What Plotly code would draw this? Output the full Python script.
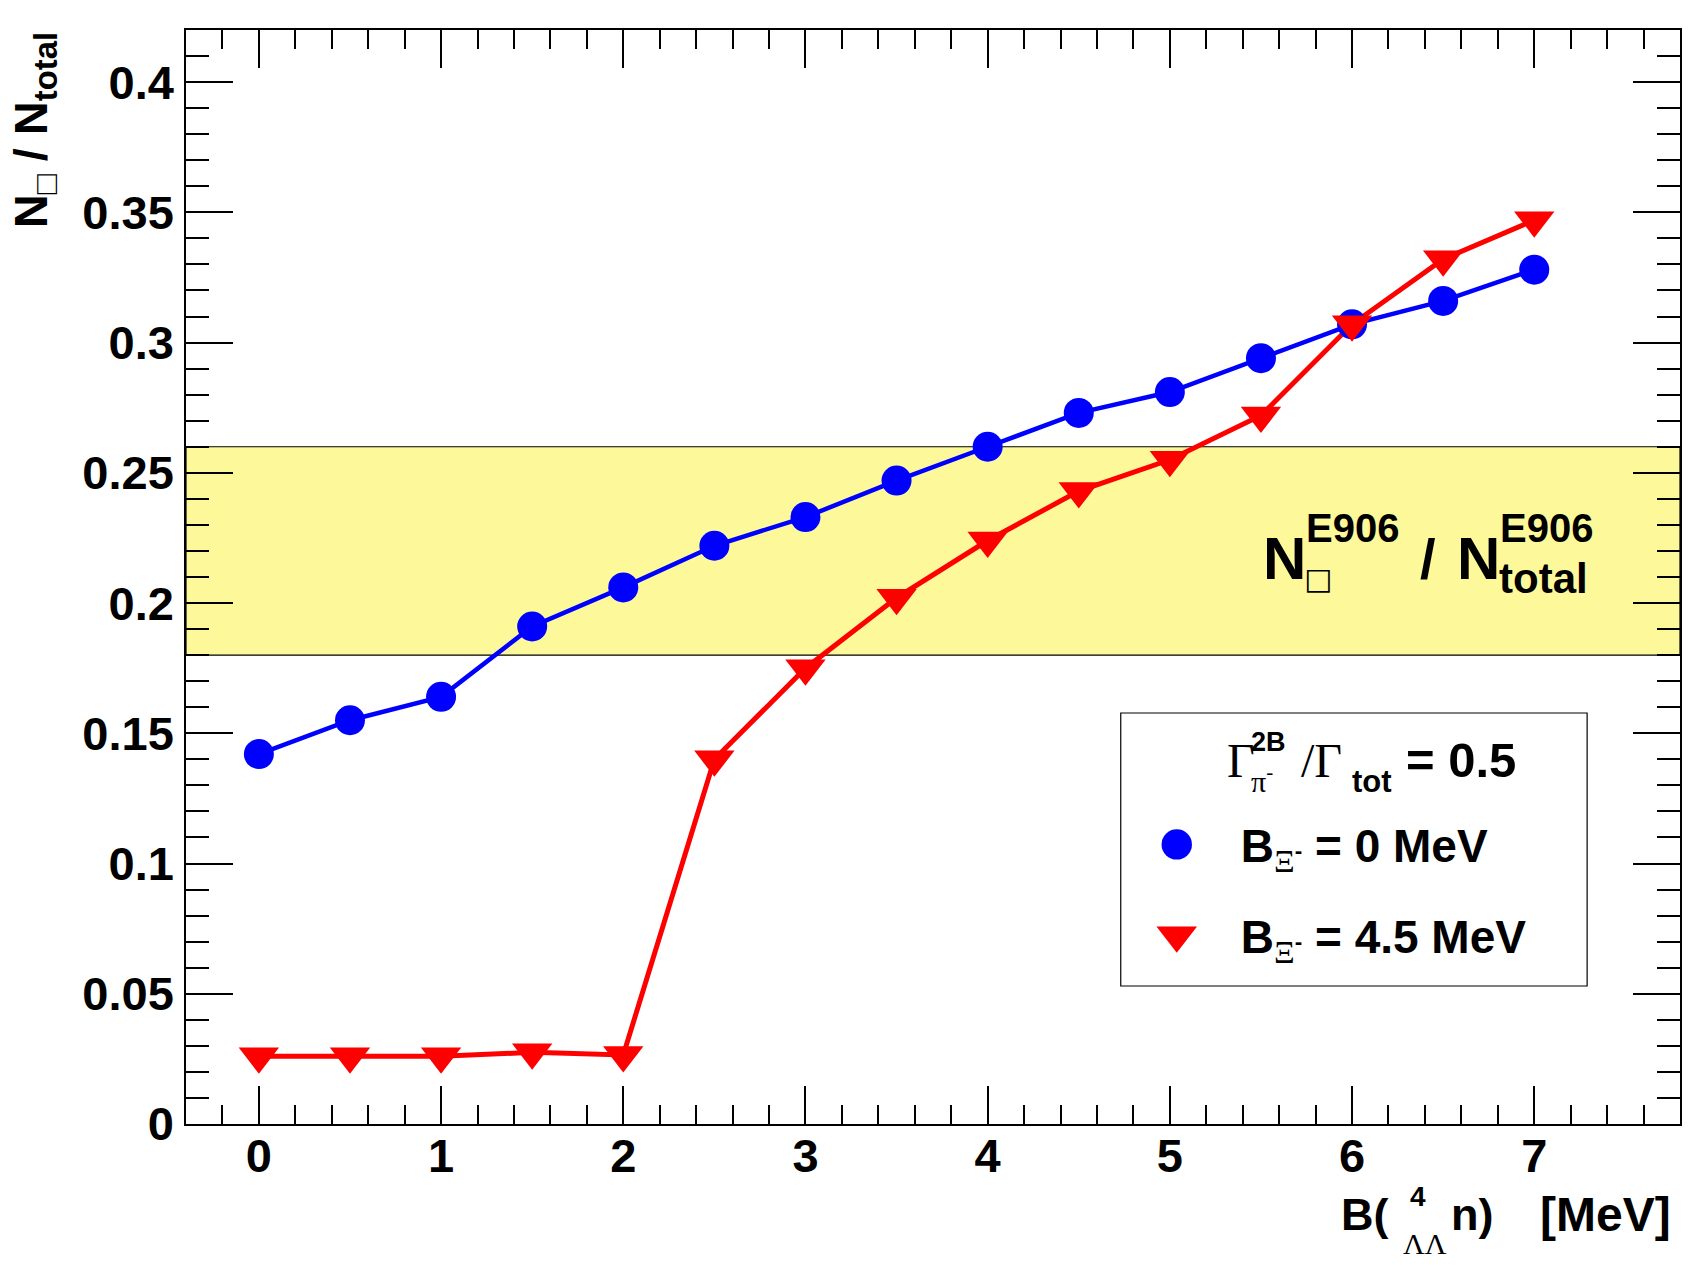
import plotly.graph_objects as go

# ---------------- data ----------------
b_lambda = [0, 0.5, 1, 1.5, 2, 2.5, 3, 3.5, 4, 4.5, 5, 5.5, 6, 6.5, 7]
ratio_bxi0 = [0.142, 0.155, 0.164, 0.191, 0.206, 0.222, 0.233, 0.247, 0.260,
              0.273, 0.281, 0.294, 0.307, 0.316, 0.328]
ratio_bxi45 = [0.026, 0.026, 0.026, 0.0275, 0.0265, 0.140, 0.175, 0.202, 0.224,
               0.243, 0.255, 0.272, 0.307, 0.332, 0.347]
series_names = ["B<sub><span style='font-family:Liberation Serif;font-weight:normal'>Ξ</span><sup>-</sup></sub> = 0 MeV",
                "B<sub><span style='font-family:Liberation Serif;font-weight:normal'>Ξ</span><sup>-</sup></sub> = 4.5 MeV"]
e906_band = [0.18, 0.26]
x_range = [-0.4, 7.8]
y_range = [0, 0.42]

# ---------------- layout geometry (pixels) ----------------
W, H = 1694, 1265
L, R, T, B = 186, 12, 30, 141
PW = W - L - R
PH = H - T - B


def px(x, y):
    return (x - L) / PW, (H - B - y) / PH


SANS = "Liberation Sans"
SERIF = "Liberation Serif"
BLUE = "#0000ff"
RED = "#ff0000"

fig = go.Figure()

# lines
fig.add_trace(go.Scatter(x=b_lambda, y=ratio_bxi0, mode="lines",
                         line=dict(color=BLUE, width=4.5), showlegend=False, hoverinfo="skip"))
fig.add_trace(go.Scatter(x=b_lambda, y=ratio_bxi45, mode="lines",
                         line=dict(color=RED, width=5), showlegend=False, hoverinfo="skip"))
# markers (+ legend entries)
fig.add_trace(go.Scatter(x=b_lambda, y=ratio_bxi0, mode="markers", name=series_names[0],
                         legendgroup="a",
                         marker=dict(symbol="circle", size=30, color=BLUE)))
fig.add_trace(go.Scatter(x=b_lambda, y=ratio_bxi45, mode="markers", name=series_names[1],
                         legendgroup="b",
                         marker=dict(symbol="triangle-down", size=35, color=RED)))

# E906 band
fig.add_shape(type="rect", xref="paper", yref="y", x0=0, x1=1,
              y0=e906_band[0], y1=e906_band[1],
              fillcolor="#fdf99a", line=dict(color="black", width=1.2), layer="below")

# legend box
lx0, ly0 = px(1122, 986)
lx1, ly1 = px(1589, 713)
fig.add_shape(type="rect", xref="paper", yref="paper", x0=lx0, x1=lx1, y0=ly0, y1=ly1,
              fillcolor="white", line=dict(color="black", width=1.2), layer="above")

annotations = []


def ann(text, x, y, size, family=SANS, weight="bold", xanchor="left", yanchor="middle", angle=0):
    xp, yp = px(x, y)
    annotations.append(dict(text=text, x=xp, y=yp, xref="paper", yref="paper",
                            xanchor=xanchor, yanchor=yanchor, showarrow=False,
                            textangle=angle,
                            font=dict(family=family, size=size, color="black", weight=weight)))


# band label  N^E906_[] / N^E906_total
ann("N", 1262, 558, 60)
ann("E906", 1305, 528, 40)
ann("□", 1303, 578, 30, family="DejaVu Sans", weight="normal")
ann("/", 1420, 558, 56)
ann("N", 1457, 558, 60)
ann("E906", 1500, 528, 40)
ann("total", 1499, 578, 42)

# legend header  Γ^2B_π- / Γ_tot = 0.5
ann("Γ", 1226, 760, 48, family=SERIF, weight="normal")
ann("2B", 1250, 742, 27)
ann("π<sup>-</sup>", 1250, 779, 30, family=SERIF, weight="normal")
ann("/Γ", 1300, 760, 48, family=SERIF, weight="normal")
ann("tot", 1352, 781, 31)
ann("= 0.5", 1406, 760, 49)

# x-axis title  B( ^4_ΛΛ n)   [MeV]
ann("B(", 1341, 1214, 45)
ann("4", 1410, 1196, 28)
ann("ΛΛ", 1403, 1243, 30, family=SERIF, weight="normal")
ann("n)", 1451, 1214, 45)
ann("[MeV]", 1675, 1214, 48, xanchor="right")

# y-axis title
ann("N<sub>□</sub> / N<sub>total</sub>", 2, 30, 47, xanchor="left", yanchor="top", angle=-90)

legx, legy = px(1114, 808)

fig.update_layout(
    width=W, height=H,
    margin=dict(l=L, r=R, t=T, b=B, pad=0),
    paper_bgcolor="white", plot_bgcolor="white",
    showlegend=True,
    legend=dict(x=legx, y=legy, xanchor="left", yanchor="top",
                bgcolor="rgba(0,0,0,0)", borderwidth=0,
                font=dict(family=SANS, size=46, color="black", weight="bold"),
                itemwidth=118, tracegroupgap=28, traceorder="grouped"),
    annotations=annotations,
    xaxis=dict(range=x_range, showgrid=False, zeroline=False,
               showline=True, linecolor="black", linewidth=1.5, mirror="allticks",
               ticks="inside", ticklen=38, tickwidth=1.5, tickcolor="black",
               tick0=0, dtick=1,
               minor=dict(ticks="inside", ticklen=19, tickwidth=1.5, tickcolor="black", dtick=0.2, tick0=0),
               tickfont=dict(family=SANS, size=47, color="black", weight="bold"),
               ticklabelstandoff=-10),
    yaxis=dict(range=y_range, showgrid=False, zeroline=False,
               showline=True, linecolor="black", linewidth=1.5, mirror="allticks",
               ticks="inside", ticklen=47, tickwidth=1.5, tickcolor="black",
               tick0=0, dtick=0.05,
               minor=dict(ticks="inside", ticklen=23, tickwidth=1.5, tickcolor="black", dtick=0.01, tick0=0),
               tickfont=dict(family=SANS, size=47, color="black", weight="bold"),
               ticklabelstandoff=1),
)

post = """
var gd = document.getElementById('{plot_id}');
function fixLegend(){
  document.querySelectorAll('.legend path.scatterpts').forEach(function(p){
    var t = p.getAttribute('transform') || '';
    if (t.indexOf('scale') < 0) {
      var d = p.getAttribute('d') || '';
      var s = (d.indexOf('A') >= 0) ? 1.9 : 2.2;
      p.setAttribute('transform', t + ' scale(' + s + ')');
    }
  });
}
fixLegend();
gd.on('plotly_afterplot', fixLegend);
"""

fig.write_html("out.html", post_script=post, config=dict(displayModeBar=False))
